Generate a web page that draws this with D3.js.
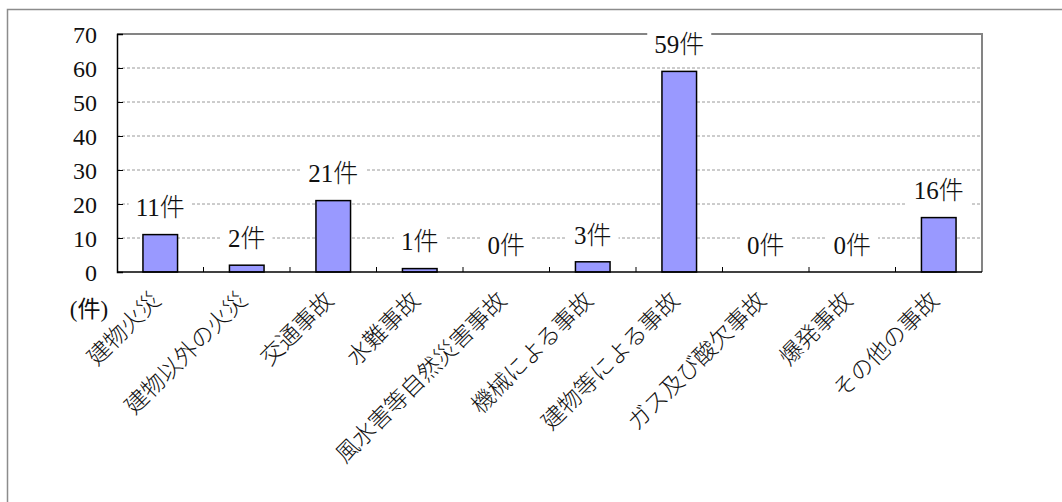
<!DOCTYPE html>
<html>
<head>
<meta charset="utf-8">
<script src="https://cdn.jsdelivr.net/npm/d3@7"></script>
<style>
  html, body { margin: 0; padding: 0; background: #fff; }
</style>
</head>
<body>
<div id="chart"></div>
<script>
// categories and counts
const categories = ['建物火災', '建物以外の火災', '交通事故', '水難事故', '風水害等自然災害事故',
    '機械による事故', '建物等による事故', 'ガス及び酸欠事故', '爆発事故', 'その他の事故'];
const counts = [11, 2, 21, 1, 0, 3, 59, 0, 0, 16];
const yTicks = [0, 10, 20, 30, 40, 50, 60, 70];
const unitLabel = '(件)';
const valueSuffix = '件';

const FONT = '"Liberation Serif", "DejaVu Serif", "Noto Sans CJK JP", serif';
const W = 1062, H = 502;
const plot = { left: 117, top: 34, right: 982, bottom: 272 };

const svg = d3.select('#chart').append('svg')
    .attr('width', W)
    .attr('height', H);

// outer frame of the chart
svg.append('rect')
    .attr('x', 7.5).attr('y', 9.5)
    .attr('width', W + 20).attr('height', H + 20)
    .attr('fill', '#fff')
    .attr('stroke', '#8c8c8c')
    .attr('stroke-width', 1.5);

const x = d3.scaleBand()
    .domain(categories)
    .range([plot.left, plot.right])
    .paddingInner(0.6)
    .paddingOuter(0.3);

// band boundaries for the small ticks on the x axis
const step = (plot.right - plot.left) / categories.length;

const y = d3.scaleLinear()
    .domain([0, 70])
    .range([plot.bottom, plot.top]);

// gridlines
svg.append('g')
    .selectAll('line')
    .data(yTicks.filter(d => d > 0 && d < 70))
    .enter()
    .append('line')
    .attr('x1', plot.left).attr('x2', plot.right)
    .attr('y1', d => y(d)).attr('y2', d => y(d))
    .attr('stroke', '#9a9a9a')
    .attr('stroke-width', 1)
    .attr('stroke-dasharray', '3,2');

// top and right border of plot area (gray)
svg.append('path')
    .attr('d', `M${plot.left},${plot.top}H${plot.right}V${plot.bottom}`)
    .attr('fill', 'none')
    .attr('stroke', '#848484')
    .attr('stroke-width', 2);

// y axis with inside ticks
const yAxis = d3.axisLeft(y).tickValues(yTicks).tickSize(-6).tickPadding(20).tickFormat(d3.format('d'));
const gy = svg.append('g')
    .attr('transform', `translate(${plot.left},0)`)
    .call(yAxis);
gy.select('.domain').attr('stroke', '#000').attr('stroke-width', 1.5);
gy.selectAll('.tick line').attr('stroke', '#000').attr('stroke-width', 1);
gy.selectAll('.tick text')
    .style('font-family', FONT)
    .style('font-size', '24px')
    .attr('fill', '#111')
    .attr('dy', '0.34em');

// x axis ticks at band boundaries
svg.append('g')
    .selectAll('line')
    .data(d3.range(1, categories.length))
    .enter()
    .append('line')
    .attr('x1', i => plot.left + i * step).attr('x2', i => plot.left + i * step)
    .attr('y1', plot.bottom).attr('y2', plot.bottom - 5)
    .attr('stroke', '#000')
    .attr('stroke-width', 1);

// bars
svg.append('g')
    .selectAll('rect')
    .data(counts)
    .enter()
    .append('rect')
    .attr('x', (d, i) => x(categories[i]))
    .attr('y', d => y(d))
    .attr('width', x.bandwidth())
    .attr('height', d => plot.bottom - y(d))
    .attr('fill', '#9999ff')
    .attr('stroke', '#000')
    .attr('stroke-width', 1.5);

// x axis line
svg.append('line')
    .attr('x1', plot.left).attr('x2', plot.right)
    .attr('y1', plot.bottom).attr('y2', plot.bottom)
    .attr('stroke', '#000')
    .attr('stroke-width', 1.5);

// value labels with white boxes
const labels = svg.append('g')
    .selectAll('g')
    .data(counts)
    .enter()
    .append('g')
    .attr('transform', (d, i) => `translate(${x(categories[i]) + x.bandwidth() / 2},${y(d) - 27})`);

labels.append('text')
    .attr('text-anchor', 'middle')
    .attr('dy', '0.35em')
    .attr('fill', '#111')
    .style('font-family', FONT)
    .style('font-size', '25px')
    .style('font-weight', 300)
    .text(d => d + valueSuffix);

labels.each(function () {
    const g = d3.select(this);
    const bb = g.select('text').node().getBBox();
    g.insert('rect', 'text')
        .attr('x', bb.x - 7)
        .attr('y', -15)
        .attr('width', bb.width + 14)
        .attr('height', 30)
        .attr('fill', '#fff');
});

// category labels, rotated
svg.append('g')
    .selectAll('text')
    .data(categories)
    .enter()
    .append('text')
    .attr('transform', d => `translate(${x(d) + x.bandwidth() / 2 - 4},${plot.bottom + 24}) rotate(-45)`)
    .attr('text-anchor', 'end')
    .attr('dy', '0.35em')
    .attr('fill', '#111')
    .style('font-family', FONT)
    .style('font-size', '23px')
    .style('font-weight', 300)
    .text(d => d);

// unit label
svg.append('text')
    .attr('x', 89)
    .attr('y', 309)
    .attr('text-anchor', 'middle')
    .attr('dy', '0.35em')
    .attr('fill', '#111')
    .style('font-family', FONT)
    .style('font-size', '23px')
    .text(unitLabel);
</script>
</body>
</html>
